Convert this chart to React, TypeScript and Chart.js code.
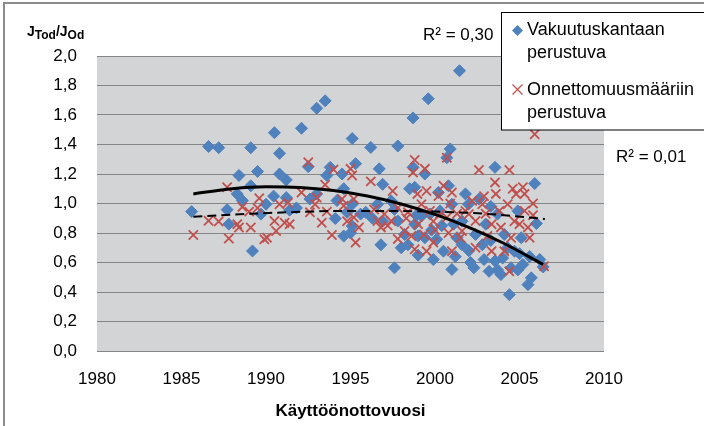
import React, { useEffect, useRef } from "react";
import { Chart, registerables } from "chart.js";

Chart.register(...registerables);

const xMin = 1980;
const xMax = 2010;
const xStep = 5;
const yMin = 0;
const yMax = 2;
const yStep = 0.2;

const blueLabel = ["Vakuutuskantaan", "perustuva"];
const redLabel = ["Onnettomuusmääriin", "perustuva"];
const blueR2 = "R² = 0,30";
const redR2 = "R² = 0,01";
const xTitle = "Käyttöönottovuosi";

const blueYears = [
  1985.6, 1986.6, 1987.2, 1989.1, 1988.4, 1989.5, 1989.1, 1988.3, 1988.6, 1987.7,
  1987.8, 1989.7, 1989.2, 1990.0, 1990.5, 1992.1, 1990.8, 1995.1, 1990.8, 1991.2,
  1992.5, 1993.8, 1993.6, 1994.5, 1995.3, 1990.45, 1991.2, 1991.4, 1992.6, 1993.0,
  1994.6, 1994.1, 1994.8, 1995.6, 1994.6, 1995.0, 1995.1, 1995.1, 1993.0, 1993.5,
  1996.2, 1997.8, 2000.9, 2000.7, 1996.7, 1996.9, 1998.7, 1998.8, 1998.5, 1999.4,
  2000.2, 2000.8, 2000.99, 1995.9, 1996.6, 1996.8, 1997.6, 1998.2, 1998.4, 1998.8,
  1999.4, 1999.9, 2000.1, 2000.5, 2001.0, 2001.1, 2001.3, 1997.8, 1997.6, 1999.2,
  1999.7, 1997.4, 1998.7, 1999.6, 2001.45, 2003.55, 2005.9, 2001.8, 2006.0, 2001.98,
  2002.4, 2002.8, 2003.55, 2002.3, 2003.2, 2003.9, 2004.5, 2005.2, 2005.7, 2005.5,
  2004.4, 2006.4, 2004.7, 2005.1, 2003.7, 2004.9, 2003.0, 2004.1, 2002.6, 2003.3,
  2004.0, 2004.9, 2005.6, 2002.0, 2001.6, 1999.0, 2000.4, 1998.0, 1996.3, 2006.2,
  1999.0, 1999.8, 2000.3, 2001.6, 2002.1, 2002.9, 2003.7, 2004.3, 2005.0, 2001.2,
  1998.9, 1996.9, 1994.2, 1991.8, 2003.3,
];
const blueValues = [
  0.945, 1.386, 1.378, 1.378, 1.19, 1.217, 1.12, 1.064, 1.02, 0.958,
  0.86, 0.928, 0.678, 0.995, 1.48, 1.51, 1.34, 1.44, 1.2, 1.16,
  1.25, 1.245, 1.19, 1.2, 1.27, 1.05, 1.04, 0.955, 1.03, 1.065,
  1.1, 0.898, 0.94, 0.928, 0.779, 0.8, 0.847, 0.995, 1.646, 1.696,
  1.38, 1.39, 1.37, 1.31, 1.235, 1.13, 1.245, 1.11, 1.1, 1.2,
  1.075, 1.12, 0.995, 0.94, 0.995, 0.72, 0.564, 0.79, 0.72, 0.86,
  0.768, 0.62, 0.757, 0.677, 0.553, 0.86, 0.768, 0.881, 0.96, 0.915,
  0.928, 1.018, 1.58, 1.71, 1.9, 1.245, 1.135, 1.065, 0.864, 0.995,
  0.79, 0.72, 0.61, 0.564, 0.54, 0.518, 0.564, 0.587, 0.496, 0.45,
  0.382, 0.57, 0.677, 0.768, 0.928, 0.95, 0.86, 0.79, 1.03, 0.98,
  0.63, 0.55, 0.64, 0.68, 0.88, 0.65, 0.85, 0.7, 0.9, 0.62,
  0.78, 0.82, 0.95, 0.72, 0.6, 0.62, 0.55, 0.7, 0.66, 0.64,
  0.92, 0.88, 1.02, 0.97, 0.75,
];

const redYears = [
  1987.7, 1985.7, 1986.6, 1987.2, 1987.8, 1988.3, 1988.4, 1989.1, 1988.6, 1989.0,
  1989.6, 1989.5, 1989.9, 1992.5, 1994.0, 1995.0, 1995.1, 1993.5, 1992.1, 1990.8,
  1991.3, 1993.0, 1992.9, 1992.6, 1993.6, 1994.5, 1994.6, 1995.2, 1995.2, 1995.5,
  1995.3, 1993.9, 1990.5, 1990.6, 1991.1, 1991.4, 1990.06, 1998.8, 1998.7, 1999.4,
  2000.7, 1996.2, 1997.5, 1998.96, 1999.5, 2000.5, 2001.0, 1997.0, 1996.6, 1997.8,
  1998.4, 1999.2, 1999.7, 2000.3, 2000.7, 1996.8, 1998.2, 1998.6, 1999.35, 1999.9,
  2001.0, 1999.5, 1998.8, 2001.5, 1997.4, 2005.9, 2002.6, 2004.4, 2003.55, 2003.6,
  2004.6, 2005.2, 2005.3, 2005.8, 2004.8, 2004.3, 2002.2, 2002.8, 2002.0, 2002.4,
  2003.35, 2003.9, 2005.0, 2005.5, 2005.6, 2004.5, 2003.35, 2002.4, 2004.1, 2004.4,
  2006.45, 2001.6, 1997.2, 2000.0, 2000.9, 2001.3, 2003.0, 2005.3,
  1998.3, 1999.0, 1999.9, 2000.2, 2001.8, 2002.9, 2003.8, 2004.7, 2005.8, 1997.8,
  2000.8, 1996.4, 1993.3, 1994.8, 2003.1,
];
const redValues = [
  1.11, 0.786, 0.883, 0.878, 0.763, 0.86, 0.837, 0.837, 0.977, 0.945,
  1.036, 0.97, 0.758, 1.28, 1.23, 1.235, 1.19, 1.127, 1.075, 0.995,
  1.005, 1.04, 0.995, 0.94, 0.945, 1.03, 0.985, 1.03, 0.905, 0.838,
  0.735, 0.786, 0.881, 0.813, 0.87, 0.86, 0.768, 1.295, 1.21, 1.235,
  1.31, 1.15, 1.085, 1.065, 1.085, 1.12, 1.075, 0.928, 0.881, 0.97,
  0.94, 0.995, 0.95, 0.928, 0.905, 0.838, 0.813, 0.78, 0.79, 0.735,
  0.677, 0.677, 0.69, 0.768, 0.881, 1.47, 1.227, 1.227, 1.143, 1.065,
  1.1, 1.11, 1.065, 1.0, 1.065, 0.995, 1.018, 0.995, 0.928, 0.881,
  0.86, 0.838, 0.86, 0.838, 0.768, 0.768, 0.677, 0.7, 0.677, 0.54,
  0.575, 0.813, 0.85, 0.82, 1.0, 0.93, 0.93, 0.95,
  0.9, 0.86, 0.88, 1.05, 0.95, 1.05, 0.95, 0.88, 0.92, 0.76,
  0.8, 0.96, 0.87, 0.88, 0.78,
];

const blueTrendYears = [1985.7, 1988, 1990, 1992, 1994, 1996, 1998, 2000, 2002, 2004, 2006.4];
const blueTrendValues = [1.065, 1.1, 1.113, 1.109, 1.088, 1.051, 0.997, 0.926, 0.838, 0.734, 0.587];
const redTrendYears = [1985.7, 1990, 1995, 2000, 2003, 2006.5];
const redTrendValues = [0.91, 0.935, 0.95, 0.945, 0.93, 0.895];

const BLUE = "#4f81bd";
const RED = "#c0504d";
const FONT = "'Liberation Sans', Arial, sans-serif";

function pts(xs: number[], ys: number[]) {
  return xs.map((x, i) => ({ x, y: ys[i] }));
}

const decorPlugin = {
  id: "decor",
  beforeDraw(chart: any) {
    const { ctx, chartArea } = chart;
    ctx.save();
    ctx.fillStyle = "#ffffff";
    ctx.fillRect(0, 0, chart.width, chart.height);
    ctx.fillStyle = "#d3d4d6";
    ctx.fillRect(chartArea.left, chartArea.top, chartArea.right - chartArea.left, chartArea.bottom - chartArea.top);
    ctx.restore();
  },
  afterDraw(chart: any) {
    const { ctx } = chart;
    ctx.save();
    ctx.strokeStyle = "#8c8c8c";
    ctx.lineWidth = 2;
    ctx.beginPath();
    ctx.moveTo(4, chart.height);
    ctx.lineTo(4, 3);
    ctx.lineTo(chart.width, 3);
    ctx.stroke();

    ctx.fillStyle = "#000";
    ctx.textBaseline = "alphabetic";
    ctx.textAlign = "left";
    let x = 27;
    const base = 36;
    const big = `bold 14px ${FONT}`;
    const small = `bold 12px ${FONT}`;
    const parts: [string, string, number][] = [
      ["J", big, 0],
      ["Tod", small, 3],
      ["/J", big, 0],
      ["Od", small, 3],
    ];
    for (const [t, f, dy] of parts) {
      ctx.font = f;
      ctx.fillText(t, x, base + dy);
      x += ctx.measureText(t).width;
    }

    ctx.font = `17px ${FONT}`;
    ctx.textBaseline = "middle";
    ctx.fillText(blueR2, 423, 35);
    ctx.fillText(redR2, 616, 157);

    ctx.fillStyle = "#ffffff";
    ctx.fillRect(501.5, 12.5, 215, 117.5);
    ctx.strokeStyle = "#000";
    ctx.lineWidth = 1;
    ctx.strokeRect(501.5, 12.5, 215, 117.5);

    ctx.fillStyle = BLUE;
    ctx.beginPath();
    const dx = 517.5, dy0 = 30.5, r = 5.5;
    ctx.moveTo(dx - r, dy0);
    ctx.lineTo(dx, dy0 - r);
    ctx.lineTo(dx + r, dy0);
    ctx.lineTo(dx, dy0 + r);
    ctx.closePath();
    ctx.fill();

    ctx.strokeStyle = RED;
    ctx.lineWidth = 1.2;
    ctx.beginPath();
    ctx.moveTo(512.5, 84.5);
    ctx.lineTo(522.5, 94.5);
    ctx.moveTo(522.5, 84.5);
    ctx.lineTo(512.5, 94.5);
    ctx.stroke();

    ctx.fillStyle = "#000";
    ctx.font = `18px ${FONT}`;
    ctx.textBaseline = "middle";
    ctx.fillText(blueLabel[0], 527, 30);
    ctx.fillText(blueLabel[1], 527, 53);
    ctx.fillText(redLabel[0], 527, 90);
    ctx.fillText(redLabel[1], 527, 113);
    ctx.restore();
  },
};

export default function App() {
  const ref = useRef<HTMLCanvasElement>(null);
  useEffect(() => {
    const canvas = ref.current!;
    const chart = new Chart(canvas, {
      type: "scatter",
      data: {
        datasets: [
          {
            type: "line",
            label: "trend blue",
            data: pts(blueTrendYears, blueTrendValues),
            borderColor: "#000",
            borderWidth: 3,
            pointRadius: 0,
            showLine: true,
            fill: false,
            cubicInterpolationMode: "monotone",
            order: 1,
          } as any,
          {
            type: "line",
            label: "trend red",
            data: pts(redTrendYears, redTrendValues),
            borderColor: "#000",
            borderWidth: 2,
            borderDash: [9, 5],
            pointRadius: 0,
            showLine: true,
            fill: false,
            cubicInterpolationMode: "monotone",
            order: 2,
          } as any,
          {
            label: redLabel.join(" "),
            data: pts(redYears, redValues),
            pointStyle: "crossRot",
            pointRadius: 6.5,
            borderColor: RED,
            backgroundColor: RED,
            pointBorderWidth: 1.8,
            order: 3,
          } as any,
          {
            label: blueLabel.join(" "),
            data: pts(blueYears, blueValues),
            pointStyle: "rectRot",
            pointRadius: 6,
            borderColor: BLUE,
            backgroundColor: BLUE,
            pointBorderWidth: 1,
            order: 4,
          } as any,
        ],
      },
      options: {
        animation: false,
        responsive: false,
        layout: { padding: { left: 0, right: 100, top: 56, bottom: 0 } },
        plugins: {
          legend: { display: false },
          tooltip: { enabled: false },
        },
        scales: {
          x: {
            type: "linear",
            min: xMin,
            max: xMax,
            afterFit: (s: any) => {
              s.height = 75;
            },
            ticks: {
              stepSize: xStep,
              padding: 18,
              color: "#000",
              font: { family: FONT, size: 17 },
              callback: (v: any) => String(v),
            },
            grid: { display: false, drawTicks: false },
            border: { display: false },
            title: {
              display: true,
              text: xTitle,
              color: "#000",
              font: { family: FONT, size: 17, weight: "bold" },
              padding: { top: 0, bottom: 4 },
            },
          },
          y: {
            min: yMin,
            max: yMax,
            afterFit: (s: any) => {
              s.width = 97;
            },
            ticks: {
              stepSize: yStep,
              padding: 20,
              color: "#000",
              font: { family: FONT, size: 17 },
              callback: (v: any) => Number(v).toFixed(1).replace(".", ","),
            },
            grid: { color: "#868686", lineWidth: 1, drawTicks: false, tickLength: 0 },
            border: { display: false },
          },
        },
      } as any,
      plugins: [decorPlugin],
    });
    return () => chart.destroy();
  }, []);
  return (
    <div style={{ position: "absolute", left: 0, top: 0, width: 704, height: 426, background: "#fff" }}>
      <canvas ref={ref} width={704} height={426} style={{ display: "block", width: 704, height: 426 }} />
    </div>
  );
}
